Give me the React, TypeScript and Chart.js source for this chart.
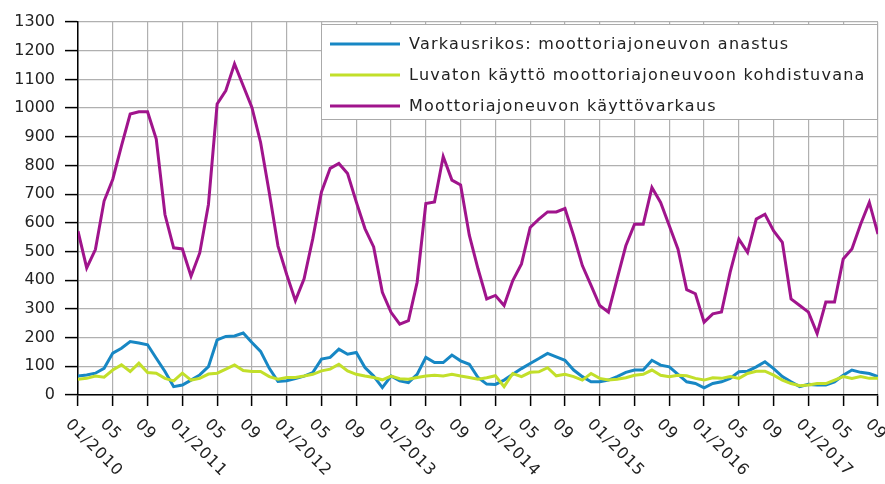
import React, { useEffect, useRef } from "react";
import { Chart, registerables } from "chart.js";

Chart.register(...registerables);

const years = [2010, 2011, 2012, 2013, 2014, 2015, 2016, 2017];
const monthCodes = ["01", "02", "03", "04", "05", "06", "07", "08", "09", "10", "11", "12"];
const categories = years.flatMap((y) => monthCodes.map((m) => `${m}/${y}`)).slice(0, 93);

const seriesNames = [
  "Varkausrikos: moottoriajoneuvon anastus",
  "Luvaton käyttö moottoriajoneuvoon kohdistuvana",
  "Moottoriajoneuvon käyttövarkaus",
];

const anastus = [
  66, 70, 76, 93, 146, 163, 186, 181, 175, 128, 82, 29,
  35, 52, 70, 99, 192, 204, 206, 216, 183, 152, 93, 47,
  50, 57, 66, 78, 125, 131, 160, 142, 148, 96, 66, 26,
  66, 49, 43, 72, 131, 113, 113, 139, 119, 107, 61, 38,
  37, 52, 72, 92, 110, 127, 145, 133, 121, 87, 64, 46,
  46, 52, 64, 79, 87, 87, 121, 104, 98, 72, 46, 40,
  25, 40, 46, 58, 81, 83, 98, 116, 92, 64, 46, 29,
  37, 35, 35, 46, 69, 87, 79, 75, 64,
];

const luvaton = [
  55, 58, 66, 62, 87, 105, 82, 111, 78, 76, 58, 49,
  76, 52, 58, 73, 76, 90, 105, 85, 82, 82, 64, 55,
  61, 61, 66, 72, 84, 90, 107, 84, 72, 66, 61, 53,
  66, 57, 55, 61, 66, 69, 66, 72, 66, 61, 55, 60,
  67, 29, 75, 64, 79, 81, 95, 67, 72, 64, 52, 75,
  58, 52, 55, 60, 69, 72, 87, 69, 64, 69, 67, 58,
  52, 60, 58, 64, 58, 75, 83, 83, 69, 52, 40, 32,
  35, 40, 40, 52, 64, 58, 64, 58, 58,
];

const kayttovarkaus = [
  571, 443, 507, 676, 752, 868, 979, 987, 987, 892, 629, 513,
  509, 414, 495, 664, 1014, 1061, 1154, 1078, 1002, 880, 705, 519,
  420, 329, 405, 545, 708, 790, 807, 772, 673, 580, 516, 358,
  288, 247, 259, 393, 667, 673, 831, 749, 732, 557, 440, 335,
  347, 312, 399, 457, 584, 613, 638, 638, 650, 555, 451, 382,
  312, 289, 405, 520, 595, 595, 723, 671, 590, 508, 367, 353,
  254, 283, 289, 428, 543, 497, 613, 630, 572, 532, 335, 312,
  289, 214, 324, 324, 474, 509, 595, 671, 561,
];

const colors = ["#1787c4", "#c2df2a", "#a0148c"];
const FONT = "DejaVu Sans";

const xLabelPlugin = {
  id: "xLabels",
  afterDraw(chart: any) {
    const ctx = chart.ctx;
    const xs = chart.scales.x;
    ctx.save();
    ctx.font = `16px "${FONT}"`;
    (ctx as any).letterSpacing = "1px";
    ctx.fillStyle = "#222";
    ctx.textAlign = "left";
    ctx.textBaseline = "middle";
    for (let i = 0; i < categories.length; i += 4) {
      const label = i % 12 === 0 ? categories[i] : categories[i].slice(0, 2);
      const px = xs.getPixelForValue(i);
      ctx.save();
      ctx.translate(px - 10, chart.chartArea.bottom + 27);
      ctx.rotate(Math.PI / 4);
      ctx.fillText(label, 0, 0);
      ctx.restore();
    }
    ctx.restore();
  },
};

const legendPlugin = {
  id: "boxLegend",
  afterDraw(chart: any) {
    const ctx = chart.ctx;
    const left = 321;
    const top = 24;
    const right = chart.chartArea.right;
    const bottom = 120;
    ctx.save();
    ctx.fillStyle = "#fff";
    ctx.fillRect(left, top, right - left, bottom - top);
    ctx.strokeStyle = "#aaa";
    ctx.lineWidth = 1;
    ctx.strokeRect(left + 0.5, top + 0.5, right - left - 1, bottom - top - 1);
    const rows = [44, 75, 106];
    ctx.font = `16px "${FONT}"`;
    (ctx as any).letterSpacing = "1.25px";
    ctx.textAlign = "left";
    ctx.textBaseline = "middle";
    seriesNames.forEach((name, k) => {
      ctx.strokeStyle = colors[k];
      ctx.lineWidth = 3;
      ctx.beginPath();
      ctx.moveTo(330, rows[k]);
      ctx.lineTo(400, rows[k]);
      ctx.stroke();
      ctx.fillStyle = "#222";
      ctx.fillText(name, 409, rows[k] + 1);
    });
    ctx.restore();
  },
};

export default function App() {
  const ref = useRef<HTMLCanvasElement | null>(null);

  useEffect(() => {
    if (!ref.current) return;
    const series = [anastus, luvaton, kayttovarkaus];
    const order = [1, 0, 2];
    const chart = new Chart(ref.current, {
      type: "line",
      data: {
        datasets: series.map((vals, k) => ({
          label: seriesNames[k],
          data: vals.map((v, i) => ({ x: i, y: v })),
          borderColor: colors[k],
          backgroundColor: colors[k],
          borderWidth: 3,
          pointRadius: 0,
          tension: 0,
          fill: false,
          order: order[k],
        })),
      },
      options: {
        animation: false,
        responsive: false,
        events: [],
        layout: { padding: { top: 22, right: 7, left: 0, bottom: 0 } },
        plugins: { legend: { display: false }, tooltip: { enabled: false } },
        scales: {
          x: {
            type: "linear",
            min: 0,
            max: categories.length - 1,
            ticks: { display: false, stepSize: 4 },
            grid: {
              color: "#b0b0b0",
              lineWidth: 1.2,
              tickLength: 11,
              tickColor: "#000",
              tickWidth: 1.5,
            },
            border: { color: "#000", width: 1.5 },
            afterFit(scale: any) {
              scale.height = 89;
            },
          },
          y: {
            min: 0,
            max: 1300,
            ticks: {
              stepSize: 100,
              padding: 10,
              color: "#222",
              font: { family: FONT, size: 16 },
              callback: (v: any) => String(v),
            },
            grid: {
              color: "#b0b0b0",
              lineWidth: 1.2,
              tickLength: 13,
              tickColor: "#000",
              tickWidth: 1.5,
            },
            border: { color: "#000", width: 1.5 },
            afterFit(scale: any) {
              scale.width = 78;
            },
          },
        },
      },
      plugins: [xLabelPlugin, legendPlugin],
    });
    return () => chart.destroy();
  }, []);

  return (
    <div style={{ position: "fixed", left: 0, top: 0, width: 885, height: 484, background: "#fff" }}>
      <canvas ref={ref} width={885} height={484} />
    </div>
  );
}
